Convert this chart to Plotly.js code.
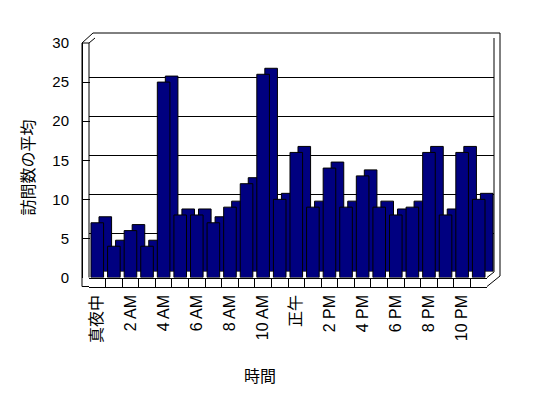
<!DOCTYPE html>
<html>
<head>
<meta charset="utf-8">
<script src="https://cdn.plot.ly/plotly-3.0.1.min.js"></script>
<style>html,body{margin:0;padding:0;background:#fff;}#chart{width:548px;height:398px;}</style>
</head>
<body>
<div id="chart"></div>
<script>
// Data
const hourIndex = [0,1,2,3,4,5,6,7,8,9,10,11,12,13,14,15,16,17,18,19,20,21,22,23];
const visits = [7,4,6,4,25,8,8,7,9,12,26,10,16,9,14,9,13,9,8,9,16,8,16,10];
const tickPositions = [0,2,4,6,8,10,12,14,16,18,20,22];
const tickLabels = ['真夜中','2 AM','4 AM','6 AM','8 AM','10 AM','正午','2 PM','4 PM','6 PM','8 PM','10 PM'];
const yTitle = '訪問数の平均';
const xTitle = '時間';

const W = 548, H = 398;
const px = x => x / W;
const py = y => 1 - y / H;
const FONT = '"Liberation Sans", Arial, "Noto Sans CJK JP", sans-serif';
const NAVY = '#000080';
const xr = [-0.5, 23.5];

const traces = [
  // back wall grid subplot (no marks)
  {type:'scatter', x:[], y:[], xaxis:'x', yaxis:'y', hoverinfo:'skip', showlegend:false},
  // depth copy of bars (3D side/top look)
  {type:'bar', x:hourIndex, y:visits, xaxis:'x2', yaxis:'y2', width:0.76,
   marker:{color:NAVY, line:{color:'#000', width:1}}, showlegend:false},
  // front faces
  {type:'bar', x:hourIndex, y:visits, xaxis:'x3', yaxis:'y3', width:0.76,
   marker:{color:NAVY, line:{color:'#000', width:1}}, showlegend:false},
  // floor strip ticks
  {type:'scatter', x:[], y:[], xaxis:'x4', yaxis:'y3', hoverinfo:'skip', showlegend:false}
];

const seg = (x0,y0,x1,y1) => ({type:'line', xref:'paper', yref:'paper',
  x0:px(x0), y0:py(y0), x1:px(x1), y1:py(y1), line:{color:'#000', width:1}, layer:'above'});

const layout = {
  width: W, height: H,
  margin:{l:0,r:0,t:0,b:0},
  paper_bgcolor:'#fff', plot_bgcolor:'rgba(0,0,0,0)',
  showlegend:false,
  font:{family:FONT, color:'#000', size:15},
  bargap:0,
  xaxis:{domain:[px(89), px(494)], range:xr, visible:false, anchor:'y'},
  yaxis:{domain:[py(272), py(38)], range:[0,30], dtick:5, tick0:0, showgrid:true, gridcolor:'#000', gridwidth:1,
         zeroline:false, showticklabels:false, ticks:'', showline:false, anchor:'x'},
  xaxis2:{domain:[px(97), px(495)], range:xr, visible:false, anchor:'y2'},
  yaxis2:{domain:[py(271.5), py(37)], range:[0,30], visible:false, anchor:'x2'},
  xaxis3:{domain:[px(89), px(487)], range:xr, anchor:'y3', showgrid:false, zeroline:false,
          showline:true, linecolor:'#000', linewidth:1, ticks:'',
          tickmode:'array', tickvals:tickPositions, ticktext:tickLabels, tickangle:-90,
          ticklabelstandoff:10, tickfont:{size:16, family:FONT, color:'#000'}},
  yaxis3:{domain:[py(277.5), py(43)], range:[0,30], anchor:'free', position:px(82), side:'left',
          showgrid:false, zeroline:false, showline:true, linecolor:'#000', linewidth:1,
          ticks:'inside', ticklen:7, tickcolor:'#000', dtick:5, tick0:0,
          ticklabelstandoff:10, tickfont:{size:15, family:FONT, color:'#000'}},
  xaxis4:{domain:[px(89), px(487)], range:xr, overlaying:'x3', anchor:'free', position:py(286.5),
          showline:true, linecolor:'#000', linewidth:1, showgrid:false, zeroline:false,
          ticks:'inside', ticklen:9, tickcolor:'#000', tickmode:'linear', tick0:-0.5, dtick:1,
          showticklabels:false},
  annotations:[
    {text:yTitle, xref:'paper', yref:'paper', x:px(28), y:py(167.5), showarrow:false, textangle:-90,
     font:{size:16, family:FONT, color:'#000'}, xanchor:'center', yanchor:'middle'},
    {text:xTitle, xref:'paper', yref:'paper', x:px(259.5), y:py(376), showarrow:false,
     font:{size:16, family:FONT, color:'#000'}, xanchor:'center', yanchor:'middle'}
  ],
  shapes:[
    seg(82,43,82,286.5),
    seg(82,286.5,89,286.5),
    seg(487,286.5,500,276),
    seg(500,276,500,33),
    seg(93,33,500,33),
    seg(82,43,93,33),
    seg(82,43,89,43),
    seg(89,43,89,277.5),
    seg(89,43,95,38),
    seg(494,38,494,272),
    seg(487,277.5,494,272)
  ]
};

Plotly.newPlot('chart', traces, layout, {staticPlot:true, displayModeBar:false});
</script>
</body>
</html>
